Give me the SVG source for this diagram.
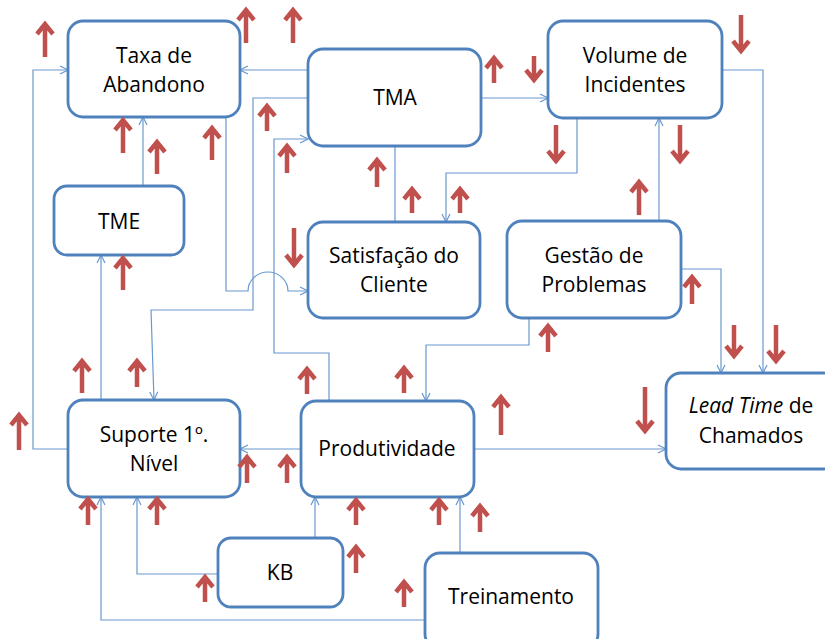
<svg xmlns="http://www.w3.org/2000/svg" width="825" height="639" viewBox="0 0 825 639">
<defs>
<marker id="ah" markerWidth="10" markerHeight="10" refX="9" refY="5" orient="auto" markerUnits="userSpaceOnUse">
<path d="M1,1 L9,5 L1,9" fill="none" stroke="#6A98D0" stroke-width="1.2"/>
</marker>
<style>
.box{fill:#fff;stroke:#4F81BD;stroke-width:2.8}
.t{font-family:"Open Sans","Liberation Sans",sans-serif;font-size:21px;fill:#000;text-anchor:middle}
.c{fill:none;stroke:#6A98D0;stroke-width:1.2}
.ca{fill:none;stroke:#6A98D0;stroke-width:1.2;marker-end:url(#ah)}
.r{fill:none;stroke:#C0504D;stroke-width:4.5;stroke-linejoin:miter}
</style>
</defs>
<rect width="825" height="639" fill="#fff"/>
<g id="connectors">
<path class="ca" d="M68,449 H33 V70 H68"/>
<path class="ca" d="M308,70 H240"/>
<path class="ca" d="M308,98 H253 V310 H151 L154,400"/>
<path class="ca" d="M329,401 V353 H274 V139 H308"/>
<path class="ca" d="M226,117 V291 H248 A20,19 0 0 1 288,291 H308"/>
<path class="ca" d="M143,186 V117"/>
<path class="ca" d="M101,400 V255"/>
<path class="ca" d="M481,98 H548"/>
<path class="c" d="M395,146 V222"/>
<path class="ca" d="M577,118 V173 H446 V222"/>
<path class="ca" d="M722,70 H763 V373"/>
<path class="ca" d="M659,221 V118"/>
<path class="ca" d="M681,269 H721 V373"/>
<path class="ca" d="M529,318 V345 H426 V401"/>
<path class="ca" d="M474,449 H666"/>
<path class="ca" d="M301,449 H240"/>
<path class="ca" d="M315,538 V497"/>
<path class="ca" d="M218,574 H137 V497"/>
<path class="ca" d="M460,553 V497"/>
<path class="ca" d="M425,620 H101 V497"/>
</g>
<g id="taxa-abandono"><rect class="box" x="68" y="21" width="172" height="96" rx="15"/><text class="t" x="154" y="63">Taxa de</text><text class="t" x="154" y="92">Abandono</text></g>
<g id="tma"><rect class="box" x="308" y="49" width="173" height="97" rx="15"/><text class="t" x="395" y="105">TMA</text></g>
<g id="volume-incidentes"><rect class="box" x="548" y="21" width="174" height="97" rx="15"/><text class="t" x="635" y="63">Volume de</text><text class="t" x="635" y="92">Incidentes</text></g>
<g id="tme"><rect class="box" x="54" y="186" width="130" height="69" rx="13"/><text class="t" x="119" y="229">TME</text></g>
<g id="satisfacao"><rect class="box" x="308" y="222" width="172" height="96" rx="15"/><text class="t" x="394" y="263">Satisfação do</text><text class="t" x="394" y="292">Cliente</text></g>
<g id="gestao-problemas"><rect class="box" x="507" y="221" width="174" height="97" rx="15"/><text class="t" x="594" y="263">Gestão de</text><text class="t" x="594" y="292">Problemas</text></g>
<g id="lead-time"><rect class="box" x="666" y="373" width="172" height="96" rx="15"/><text class="t" x="751" y="413"><tspan font-style="italic">Lead Time</tspan> de</text><text class="t" x="751" y="443">Chamados</text></g>
<g id="suporte"><rect class="box" x="68" y="400" width="172" height="97" rx="15"/><text class="t" x="154" y="442">Suporte 1º.</text><text class="t" x="154" y="471">Nível</text></g>
<g id="produtividade"><rect class="box" x="301" y="401" width="173" height="96" rx="15"/><text class="t" x="387" y="456">Produtividade</text></g>
<g id="kb"><rect class="box" x="218" y="538" width="125" height="69" rx="13"/><text class="t" x="280" y="580">KB</text></g>
<g id="treinamento"><rect class="box" x="425" y="553" width="173" height="96" rx="15"/><text class="t" x="511" y="604">Treinamento</text></g>
<g id="indicators">
<path class="r" d="M45,57 V24 M37,34 L45,24 L53,34"/>
<path class="r" d="M246,43 V10 M238,20 L246,10 L254,20"/>
<path class="r" d="M293,43 V10 M285,20 L293,10 L301,20"/>
<path class="r" d="M123,153 V120 M115,130 L123,120 L131,130"/>
<path class="r" d="M157,174 V142 M149,152 L157,142 L165,152"/>
<path class="r" d="M212,160 V128 M204,138 L212,128 L220,138"/>
<path class="r" d="M267,131 V106 M259,116 L267,106 L275,116"/>
<path class="r" d="M287,173 V146 M279,156 L287,146 L295,156"/>
<path class="r" d="M494,83 V58 M486,68 L494,58 L502,68"/>
<path class="r" d="M377,187 V160 M369,170 L377,160 L385,170"/>
<path class="r" d="M412,213 V189 M404,199 L412,189 L420,199"/>
<path class="r" d="M460,213 V189 M452,199 L460,189 L468,199"/>
<path class="r" d="M639,215 V182 M631,192 L639,182 L647,192"/>
<path class="r" d="M123,290 V258 M115,268 L123,258 L131,268"/>
<path class="r" d="M82,393 V361 M74,371 L82,361 L90,371"/>
<path class="r" d="M137,387 V361 M129,371 L137,361 L145,371"/>
<path class="r" d="M307,394 V369 M299,379 L307,369 L315,379"/>
<path class="r" d="M404,393 V368 M396,378 L404,368 L412,378"/>
<path class="r" d="M501,435 V397 M493,407 L501,397 L509,407"/>
<path class="r" d="M692,304 V277 M684,287 L692,277 L700,287"/>
<path class="r" d="M548,352 V326 M540,336 L548,326 L556,336"/>
<path class="r" d="M19,450 V415 M11,425 L19,415 L27,425"/>
<path class="r" d="M247,483 V457 M239,467 L247,457 L255,467"/>
<path class="r" d="M287,483 V457 M279,467 L287,457 L295,467"/>
<path class="r" d="M88,525 V499 M80,509 L88,499 L96,509"/>
<path class="r" d="M157,525 V499 M149,509 L157,499 L165,509"/>
<path class="r" d="M205,602 V577 M197,587 L205,577 L213,587"/>
<path class="r" d="M356,525 V500 M348,510 L356,500 L364,510"/>
<path class="r" d="M439,525 V500 M431,510 L439,500 L447,510"/>
<path class="r" d="M480,532 V506 M472,516 L480,506 L488,516"/>
<path class="r" d="M356,573 V547 M348,557 L356,547 L364,557"/>
<path class="r" d="M404,607 V582 M396,592 L404,582 L412,592"/>
<path class="r" d="M534,56 V80 M526,70 L534,80 L542,70"/>
<path class="r" d="M556,125 V161 M548,151 L556,161 L564,151"/>
<path class="r" d="M741,15 V51 M733,41 L741,51 L749,41"/>
<path class="r" d="M680,125 V161 M672,151 L680,161 L688,151"/>
<path class="r" d="M294,228 V265 M286,255 L294,265 L302,255"/>
<path class="r" d="M734,325 V356 M726,346 L734,356 L742,346"/>
<path class="r" d="M776,325 V361 M768,351 L776,361 L784,351"/>
<path class="r" d="M645,387 V431 M637,421 L645,431 L653,421"/>
</g>
</svg>
